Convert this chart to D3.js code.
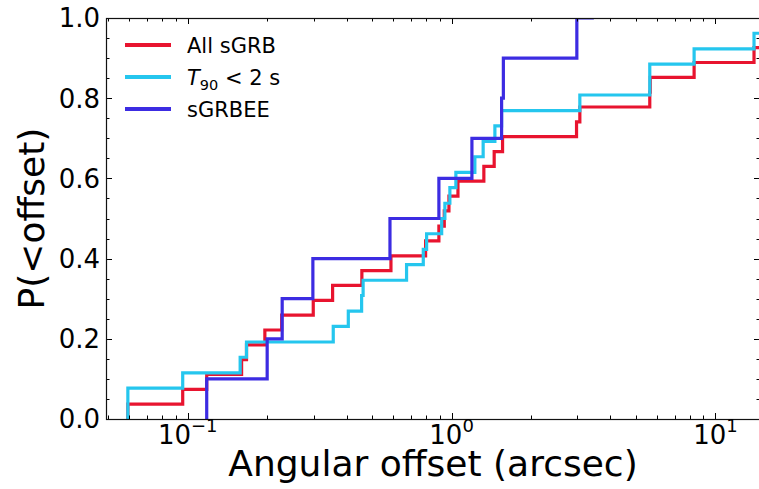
<!DOCTYPE html>
<html>
<head>
<meta charset="utf-8">
<script src="https://cdn.jsdelivr.net/npm/d3@7/dist/d3.min.js"></script>
<style>
  html, body { margin: 0; padding: 0; background: #fff; }
  svg { display: block; font-family: "DejaVu Sans", sans-serif; }
</style>
</head>
<body>
<svg id="chart" width="759" height="489"></svg>
<script>
// Cumulative distributions of host-galaxy angular offsets (arcsec).
const allOffsets = [0.0593, 0.0957, 0.118, 0.160, 0.167, 0.196, 0.227, 0.299, 0.354, 0.457,
  0.589, 0.797, 0.895, 0.938, 0.977, 1.057, 1.325, 1.450, 1.560, 2.975,
  3.062, 5.637, 5.660, 8.30, 14.0, 17.5, 21.0];
const allCdf = [0.037, 0.074, 0.111, 0.148, 0.185, 0.222, 0.259, 0.296, 0.333, 0.370,
  0.407, 0.444, 0.481, 0.519, 0.556, 0.593, 0.630, 0.667, 0.704, 0.741,
  0.778, 0.815, 0.852, 0.889, 0.926, 0.963, 1.000];

const shortOffsets = [0.0593, 0.0593, 0.0957, 0.158, 0.167, 0.356, 0.406, 0.456, 0.462, 0.675,
  0.781, 0.804, 0.917, 0.943, 0.985, 1.038, 1.225, 1.317, 1.459, 1.547,
  3.062, 5.637, 5.637, 8.30, 14.0, 16.0];
const shortCdf = [0.038, 0.077, 0.115, 0.154, 0.192, 0.231, 0.269, 0.308, 0.346, 0.385,
  0.423, 0.462, 0.500, 0.538, 0.577, 0.615, 0.654, 0.692, 0.731, 0.769,
  0.808, 0.846, 0.885, 0.923, 0.962, 1.000];

const eeOffsets = [0.118, 0.200, 0.228, 0.298, 0.584, 0.895, 1.194, 1.547, 1.571, 2.983, 3.46];
const eeCdf = [0.1, 0.2, 0.3, 0.4, 0.5, 0.6, 0.7, 0.8, 0.9, 1.0, 1.0];

const xMajorTicks = [0.1, 1, 10];
const xTickExponents = ["\u22121", "0", "1"];
const yTickValues = [0.0, 0.2, 0.4, 0.6, 0.8, 1.0];
const yTickLabels = ["0.0", "0.2", "0.4", "0.6", "0.8", "1.0"];

const colors = { all: "#e8142f", short: "#25c6ee", ee: "#3c2ce2" };

const svg = d3.select("#chart");
const pLeft = 106, pRight = 760, pTop = 18, pBottom = 419;

const x = d3.scaleLog().domain([0.0490, 14.75]).range([pLeft, pRight]);
const y = d3.scaleLinear().domain([0, 1]).range([pBottom, pTop]);

svg.append("rect").attr("width", 759).attr("height", 489).attr("fill", "#fff");

svg.append("clipPath").attr("id", "plotclip")
  .append("rect").attr("x", pLeft).attr("y", pTop)
  .attr("width", pRight - pLeft).attr("height", pBottom - pTop);

// Step curves: start at zero on the first offset, then rise at each offset.
const stepLine = d3.line().x(d => x(d[0])).y(d => y(d[1])).curve(d3.curveStepAfter);
function stepPoints(offs, cdf) {
  const pts = [[offs[0], 0]];
  offs.forEach((o, i) => pts.push([o, cdf[i]]));
  return pts;
}

const curves = svg.append("g").attr("clip-path", "url(#plotclip)");
[
  [allOffsets, allCdf, colors.all],
  [shortOffsets, shortCdf, colors.short],
  [eeOffsets, eeCdf, colors.ee]
].forEach(([o, c, col]) => {
  curves.append("path")
    .attr("d", stepLine(stepPoints(o, c)))
    .attr("fill", "none")
    .attr("stroke", col)
    .attr("stroke-width", 3.2)
    .attr("stroke-linejoin", "miter");
});

// Inward ticks on all four sides
const xMinor = [];
[0.01, 0.1, 1, 10].forEach(d => { for (let k = 2; k <= 9; k++) xMinor.push(d * k); });
const xMinorIn = xMinor.filter(v => v > x.domain()[0] && v < x.domain()[1]);
const yMinor = d3.range(0, 21).map(i => i * 0.05).filter(v => yTickValues.every(t => Math.abs(t - v) > 1e-6));

const axisG = svg.append("g").attr("stroke", "#000").attr("stroke-width", 1);
const majLen = 6, minLen = 3.5;
xMajorTicks.forEach(v => {
  const px = Math.round(x(v)) + 0.5;
  axisG.append("line").attr("x1", px).attr("x2", px).attr("y1", pBottom).attr("y2", pBottom - majLen);
  axisG.append("line").attr("x1", px).attr("x2", px).attr("y1", pTop).attr("y2", pTop + majLen);
});
xMinorIn.forEach(v => {
  const px = Math.round(x(v)) + 0.5;
  axisG.append("line").attr("x1", px).attr("x2", px).attr("y1", pBottom).attr("y2", pBottom - minLen);
  axisG.append("line").attr("x1", px).attr("x2", px).attr("y1", pTop).attr("y2", pTop + minLen);
});
yTickValues.forEach(v => {
  const py = Math.round(y(v)) + 0.5;
  axisG.append("line").attr("x1", pLeft).attr("x2", pLeft + majLen).attr("y1", py).attr("y2", py);
  axisG.append("line").attr("x1", pRight).attr("x2", pRight - majLen).attr("y1", py).attr("y2", py);
});
yMinor.forEach(v => {
  const py = Math.round(y(v)) + 0.5;
  axisG.append("line").attr("x1", pLeft).attr("x2", pLeft + minLen).attr("y1", py).attr("y2", py);
  axisG.append("line").attr("x1", pRight).attr("x2", pRight - minLen).attr("y1", py).attr("y2", py);
});

// Frame
svg.append("rect")
  .attr("x", pLeft + 0.5).attr("y", pTop + 0.5)
  .attr("width", pRight - pLeft).attr("height", pBottom - pTop)
  .attr("fill", "none").attr("stroke", "#111").attr("stroke-width", 1.2);

// Tick labels
yTickValues.forEach((v, i) => {
  svg.append("text")
    .attr("x", 100).attr("y", y(v))
    .attr("dy", "0.36em")
    .attr("text-anchor", "end")
    .attr("font-size", 26)
    .attr("fill", "#000")
    .text(yTickLabels[i]);
});
xMajorTicks.forEach((v, i) => {
  const t = svg.append("text")
    .attr("x", x(v)).attr("y", 444)
    .attr("text-anchor", "middle")
    .attr("font-size", 26)
    .attr("fill", "#000");
  t.append("tspan").text("10");
  t.append("tspan").attr("font-size", 18).attr("dy", -12).text(xTickExponents[i]);
});

// Axis titles
svg.append("text")
  .attr("x", (pLeft + pRight) / 2).attr("y", 476)
  .attr("text-anchor", "middle")
  .attr("font-size", 36)
  .attr("fill", "#000")
  .text("Angular offset (arcsec)");
svg.append("text")
  .attr("transform", `translate(44,${(pTop + pBottom) / 2}) rotate(-90)`)
  .attr("text-anchor", "middle")
  .attr("font-size", 36)
  .attr("fill", "#000")
  .text("P(<offset)");

// Legend
const legend = svg.append("g");
const legendItems = [
  { color: colors.all, label: "all" },
  { color: colors.short, label: "short" },
  { color: colors.ee, label: "ee" }
];
legendItems.forEach((d, i) => {
  const ly = 45 + i * 32;
  legend.append("line")
    .attr("x1", 125).attr("x2", 171).attr("y1", ly).attr("y2", ly)
    .attr("stroke", d.color).attr("stroke-width", 4);
  const t = legend.append("text")
    .attr("x", 187).attr("y", ly + 8)
    .attr("font-size", 21).attr("fill", "#000");
  if (d.label === "all") t.text("All sGRB");
  else if (d.label === "ee") t.text("sGRBEE");
  else {
    t.append("tspan").attr("font-style", "italic").text("T");
    t.append("tspan").attr("font-size", 14.5).attr("dy", 5).text("90");
    t.append("tspan").attr("dy", -5).text(" < 2 s");
  }
});
</script>
</body>
</html>
